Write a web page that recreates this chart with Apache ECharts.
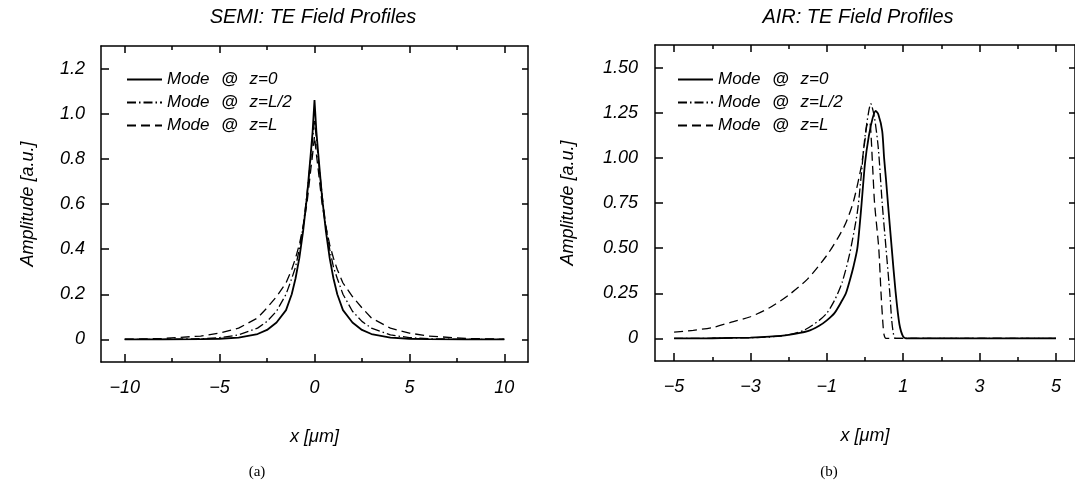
<!DOCTYPE html>
<html><head><meta charset="utf-8">
<script src="https://cdn.jsdelivr.net/npm/echarts@6/dist/echarts.min.js"></script>
<style>html,body{margin:0;padding:0;background:#fff}#c{width:1075px;height:486px}</style>
</head><body><div id="c"></div>
<script>
// ---------- data ----------
const seriesNames = ['Mode @ z=0', 'Mode @ z=L/2', 'Mode @ z=L'];

// (a) SEMI
const semiX   = [-10,-8,-6,-5,-4,-3,-2.5,-2,-1.5,-1.2,-1,-0.8,-0.6,-0.4,-0.2,-0.1,0,0.1,0.2,0.4,0.6,0.8,1,1.2,1.5,2,2.5,3,4,5,6,8,10];
const semiZ0  = [0,0,0.001,0.003,0.008,0.024,0.042,0.075,0.13,0.2,0.27,0.36,0.48,0.63,0.82,0.92,1.06,0.92,0.82,0.63,0.48,0.36,0.27,0.2,0.13,0.075,0.042,0.024,0.008,0.003,0.001,0,0];
const semiZL2 = [0,0.0005,0.003,0.008,0.02,0.05,0.08,0.125,0.2,0.27,0.32,0.4,0.5,0.64,0.8,0.89,0.97,0.89,0.8,0.64,0.5,0.4,0.32,0.27,0.2,0.125,0.08,0.05,0.02,0.008,0.003,0.0005,0];
const semiZL  = [0.001,0.004,0.015,0.028,0.05,0.095,0.14,0.19,0.25,0.31,0.36,0.42,0.5,0.6,0.75,0.82,0.9,0.82,0.75,0.6,0.5,0.42,0.36,0.31,0.25,0.19,0.14,0.095,0.05,0.028,0.015,0.004,0.001];
const semiXTicks = [-10,-5,0,5,10];
const semiXMinor = [-7.5,-2.5,2.5,7.5];
const semiYTicks = [0,0.2,0.4,0.6,0.8,1.0,1.2];

// (b) AIR
const airX0  = [-5,-4,-3,-2.5,-2,-1.5,-1.2,-1,-0.8,-0.6,-0.5,-0.4,-0.3,-0.2,-0.1,0,0.1,0.2,0.28,0.35,0.45,0.5,0.55,0.6,0.7,0.8,0.9,1.0,1.1,2,3,4,5];
const airZ0  = [0,0.001,0.005,0.01,0.02,0.04,0.07,0.1,0.14,0.21,0.25,0.32,0.4,0.5,0.72,0.97,1.12,1.22,1.26,1.24,1.15,1.0,0.88,0.75,0.5,0.26,0.08,0.01,0,0,0,0,0];
const airXL2 = [-5,-4,-3,-2.5,-2,-1.6,-1.2,-1,-0.8,-0.6,-0.4,-0.2,-0.1,0,0.1,0.15,0.25,0.35,0.45,0.55,0.65,0.7,0.75,0.8,1,2,3,4,5];
const airZL2 = [0,0.001,0.004,0.008,0.02,0.045,0.1,0.14,0.21,0.31,0.47,0.7,0.9,1.12,1.26,1.3,1.22,1.05,0.75,0.5,0.25,0.1,0.02,0,0,0,0,0,0];
const airXL  = [-5,-4.5,-4,-3.5,-3,-2.5,-2,-1.5,-1,-0.7,-0.5,-0.3,-0.1,0,0.05,0.12,0.2,0.25,0.36,0.42,0.47,0.5,0.55,1,2,3,4,5];
const airZL  = [0.035,0.045,0.06,0.09,0.12,0.17,0.24,0.33,0.46,0.56,0.64,0.76,0.95,1.1,1.18,1.2,0.95,0.75,0.5,0.25,0.08,0.02,0,0,0,0,0,0];
const airXTicks = [-5,-3,-1,1,3,5];
const airXMinor = [-4,-2,0,2,4];
const airYTicks = [0,0.25,0.5,0.75,1.0,1.25,1.5];

// ---------- styling / build ----------
const FONT = 'Liberation Sans';
const BLACK = '#000';
const lineTypes = ['solid', [9,3,1.5,3], [9,5]];
const lineWidths = [1.8, 1.3, 1.3];

function fmtX(v){ return v < 0 ? '\u2212' + Math.abs(v) : String(v); }

function axes(g, o){
  const ax = {color: BLACK, width: 1.5};
  const xs = [
    {type:'value', gridIndex:g, min:o.xmin, max:o.xmax, position:'bottom',
     axisLine:{show:true, onZero:false, lineStyle:ax},
     axisTick:{show:true, inside:true, length:8, customValues:o.xt, lineStyle:ax},
     axisLabel:{customValues:o.xt, formatter:fmtX, margin:17, color:BLACK, fontSize:18, fontStyle:'italic', fontFamily:FONT},
     splitLine:{show:false},
     name:'x [\u03bcm]', nameLocation:'middle', nameGap:66,
     nameTextStyle:{color:BLACK, fontSize:18, fontStyle:'italic', fontFamily:FONT}},
    {type:'value', gridIndex:g, min:o.xmin, max:o.xmax, position:'top',
     axisLine:{show:true, onZero:false, lineStyle:ax},
     axisTick:{show:true, inside:true, length:7, customValues:o.xt, lineStyle:ax},
     axisLabel:{show:false}, splitLine:{show:false}},
    {type:'value', gridIndex:g, min:o.xmin, max:o.xmax, position:'bottom',
     axisLine:{show:false, onZero:false},
     axisTick:{show:true, inside:true, length:4, customValues:o.xm, lineStyle:ax},
     axisLabel:{show:false}, splitLine:{show:false}},
    {type:'value', gridIndex:g, min:o.xmin, max:o.xmax, position:'top',
     axisLine:{show:false, onZero:false},
     axisTick:{show:true, inside:true, length:4, customValues:o.xm, lineStyle:ax},
     axisLabel:{show:false}, splitLine:{show:false}}
  ];
  const ys = [
    {type:'value', gridIndex:g, min:o.ymin, max:o.ymax, position:'left',
     axisLine:{show:true, onZero:false, lineStyle:ax},
     axisTick:{show:true, inside:true, length:8, customValues:o.yt, lineStyle:ax},
     axisLabel:{customValues:o.yt, formatter:o.yfmt, margin:o.ylm, color:BLACK, fontSize:18, fontStyle:'italic', fontFamily:FONT},
     splitLine:{show:false},
     name:'Amplitude [a.u.]', nameLocation:'middle', nameGap:o.yng, nameRotate:90,
     nameTextStyle:{color:BLACK, fontSize:18, fontStyle:'italic', fontFamily:FONT}},
    {type:'value', gridIndex:g, min:o.ymin, max:o.ymax, position:'right',
     axisLine:{show:true, onZero:false, lineStyle:ax},
     axisTick:{show:true, inside:true, length:6, customValues:o.yt, lineStyle:ax},
     axisLabel:{show:false}, splitLine:{show:false}}
  ];
  return {xs, ys};
}

const A = axes(0, {xmin:-11.25, xmax:11.25, ymin:-0.1, ymax:1.3, xt:semiXTicks, xm:semiXMinor, yt:semiYTicks,
  yfmt:v => v === 0 ? '0' : v.toFixed(1), ylm:16, yng:64});
const B = axes(1, {xmin:-5.5, xmax:5.5, ymin:-0.125, ymax:1.625, xt:airXTicks, xm:airXMinor, yt:airYTicks,
  yfmt:v => v === 0 ? '0' : v.toFixed(2), ylm:17, yng:78});

function pairs(xs, ys){ return xs.map((x,i) => [x, ys[i]]); }

const semiData = [semiZ0, semiZL2, semiZL];
const airXs = [airX0, airXL2, airXL];
const airData = [airZ0, airZL2, airZL];

const series = [];
seriesNames.forEach((n,i) => {
  series.push({type:'line', name:n, xAxisIndex:0, yAxisIndex:0, data:pairs(semiX, semiData[i]),
    symbol:'none', showSymbol:false, silent:true, animation:false,
    lineStyle:{color:BLACK, width:lineWidths[i], type:lineTypes[i]}, itemStyle:{color:BLACK}});
});
seriesNames.forEach((n,i) => {
  series.push({type:'line', name:n, xAxisIndex:4, yAxisIndex:2, data:pairs(airXs[i], airData[i]),
    symbol:'none', showSymbol:false, smooth:0.25, silent:true, animation:false,
    lineStyle:{color:BLACK, width:lineWidths[i], type:lineTypes[i]}, itemStyle:{color:BLACK}});
});

function legendAt(left){
  return {show:true, left:left, top:66, orient:'vertical', itemWidth:35, itemHeight:12, itemGap:6,
    data:seriesNames, selectedMode:false,
    itemStyle:{opacity:0},
    formatter: n => n.replace('@', '{b|@}'),
    textStyle:{color:BLACK, fontSize:17, fontStyle:'italic', fontFamily:FONT,
      rich:{b:{fontWeight:'bold', fontStyle:'italic', fontSize:17, fontFamily:FONT, color:BLACK, padding:[0,7,0,7]}}}};
}

const textStyleTitle = {fill:BLACK, font:'italic 20px "' + FONT + '"', textAlign:'center', textVerticalAlign:'middle'};
const capStyle = {fill:BLACK, font:'15px "Liberation Serif"', textAlign:'center', textVerticalAlign:'middle'};

const option = {
  backgroundColor:'#fff',
  animation:false,
  grid:[
    {left:101, top:46, width:427, height:316},
    {left:655, top:45, width:424, height:316}
  ],
  xAxis: A.xs.concat(B.xs),
  yAxis: A.ys.concat(B.ys),
  legend:[legendAt(121), legendAt(672)],
  series: series,
  graphic:[
    {type:'text', x:313, y:17, style:Object.assign({text:'SEMI: TE Field Profiles'}, textStyleTitle)},
    {type:'text', x:858, y:17, style:Object.assign({text:'AIR: TE Field Profiles'}, textStyleTitle)},
    {type:'text', x:257, y:472, style:Object.assign({text:'(a)'}, capStyle)},
    {type:'text', x:829, y:472, style:Object.assign({text:'(b)'}, capStyle)}
  ]
};

const chart = echarts.init(document.getElementById('c'), null, {renderer:'canvas'});
chart.setOption(option);
</script>
</body></html>
